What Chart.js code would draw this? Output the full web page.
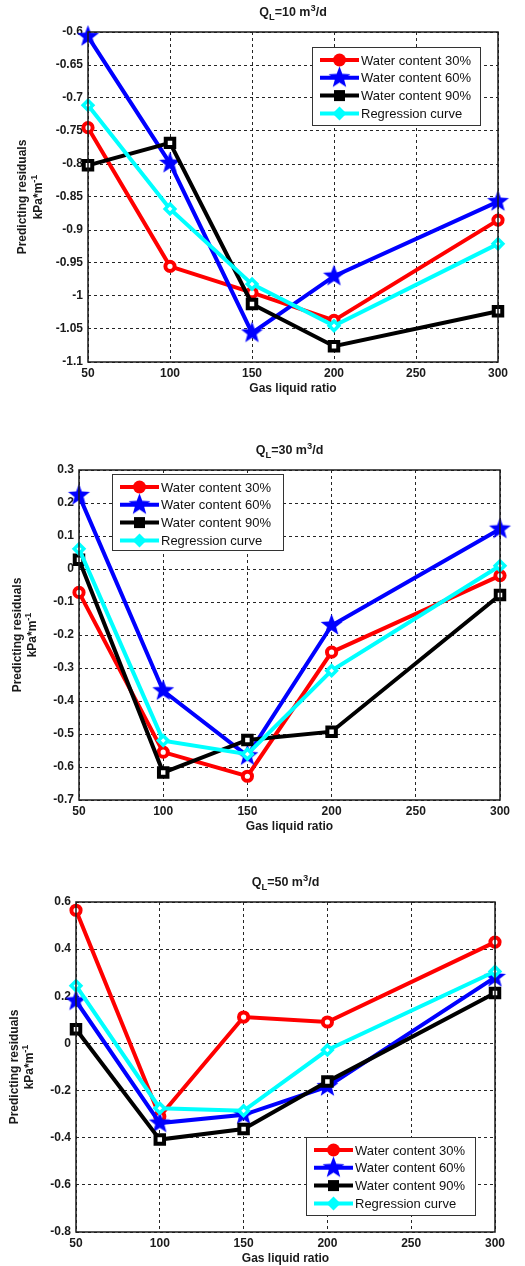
<!DOCTYPE html>
<html>
<head>
<meta charset="utf-8">
<script src="https://cdn.jsdelivr.net/npm/chart.js@4.4.1/dist/chart.umd.min.js"></script>
<style>
  html, body { margin: 0; padding: 0; background: #fff; }
  body { width: 525px; height: 1266px; position: relative; overflow: hidden; }
  canvas { position: absolute; left: 0; }
</style>
</head>
<body>
<canvas id="chartQ10" width="525" height="410" style="top:0px"></canvas>
<canvas id="chartQ30" width="525" height="420" style="top:420px"></canvas>
<canvas id="chartQ50" width="525" height="406" style="top:860px"></canvas>
<script>
// Data
const gasLiquidRatio = [50, 100, 150, 200, 300];
const seriesLabels = ['Water content 30%', 'Water content 60%', 'Water content 90%', 'Regression curve'];

// QL = 10 m3/d
const q10Water30 = [-0.745, -0.955, -0.995, -1.037, -0.885];
const q10Water60 = [-0.607, -0.799, -1.056, -0.970, -0.857];
const q10Water90 = [-0.802, -0.768, -1.012, -1.076, -1.023];
const q10Regression = [-0.711, -0.868, -0.982, -1.045, -0.921];

// QL = 30 m3/d
const q30Water30 = [-0.071, -0.555, -0.628, -0.252, -0.020];
const q30Water60 = [0.223, -0.369, -0.566, -0.171, 0.121];
const q30Water90 = [0.028, -0.617, -0.518, -0.493, -0.079];
const q30Regression = [0.061, -0.520, -0.561, -0.308, 0.010];

// QL = 50 m3/d
const q50Water30 = [0.565, -0.310, 0.112, 0.091, 0.430];
const q50Water60 = [0.180, -0.338, -0.303, -0.183, 0.280];
const q50Water90 = [0.060, -0.408, -0.363, -0.162, 0.214];
const q50Regression = [0.245, -0.275, -0.286, -0.028, 0.305];

// tick values
const xTicks = [50, 100, 150, 200, 250, 300];
const yTicksQ10 = [-1.1, -1.05, -1, -0.95, -0.9, -0.85, -0.8, -0.75, -0.7, -0.65, -0.6];
const yTicksQ30 = [-0.7, -0.6, -0.5, -0.4, -0.3, -0.2, -0.1, 0, 0.1, 0.2, 0.3];
const yTicksQ50 = [-0.8, -0.6, -0.4, -0.2, 0, 0.2, 0.4, 0.6];

const FONT = '"Liberation Sans", Arial, sans-serif';

function makeStar(outer, inner, color) {
    const c = document.createElement('canvas');
    const s = Math.ceil(outer * 2 + 2);
    c.width = s; c.height = s;
    const g = c.getContext('2d');
    g.fillStyle = color;
    g.beginPath();
    for (let i = 0; i < 10; i++) {
        const r = i % 2 ? inner : outer;
        const a = -Math.PI / 2 + i * Math.PI / 5;
        g.lineTo(s / 2 + r * Math.cos(a), s / 2 + r * Math.sin(a));
    }
    g.closePath();
    g.fill();
    return c;
}

const starPoint = makeStar(11.5, 4.8, '#0000ff');

// line / marker look per series (MATLAB style)
const seriesStyles = [
    { color: '#ff0000', pointStyle: 'circle', radius: 4.6, border: 4, bg: '#ffffff', order: 3 },
    { color: '#0000ff', pointStyle: starPoint, radius: 10, border: 0, bg: '#0000ff', order: 2 },
    { color: '#000000', pointStyle: 'rect', radius: 6, border: 4, bg: '#ffffff', order: 1 },
    { color: '#00ffff', pointStyle: 'rectRot', radius: 4.8, border: 3.5, bg: '#ffffff', order: 0 }
];

// rich text: parts = [[text, -1 sub | 0 | 1 sup], ...]
function richWidth(ctx, parts, size) {
    let w = 0;
    parts.forEach(p => {
        ctx.font = `bold ${p[1] ? size * 0.75 : size}px ${FONT}`;
        w += ctx.measureText(p[0]).width;
    });
    return w;
}

function drawRich(ctx, parts, cx, cy, size) {
    let x = cx - richWidth(ctx, parts, size) / 2;
    ctx.textAlign = 'left';
    ctx.textBaseline = 'middle';
    parts.forEach(p => {
        const s = p[1] ? size * 0.75 : size;
        ctx.font = `bold ${s}px ${FONT}`;
        const dy = p[1] === -1 ? size * 0.35 : (p[1] === 1 ? -size * 0.4 : 0);
        ctx.fillText(p[0], x, cy + dy);
        x += ctx.measureText(p[0]).width;
    });
}

function drawLegendMarker(ctx, idx, x, y) {
    const st = seriesStyles[idx];
    ctx.fillStyle = st.color;
    ctx.beginPath();
    if (idx === 0) {
        ctx.arc(x, y, 6.5, 0, Math.PI * 2);
        ctx.fill();
    } else if (idx === 1) {
        ctx.drawImage(starPoint, x - starPoint.width / 2, y - starPoint.height / 2);
    } else if (idx === 2) {
        ctx.fillRect(x - 5.5, y - 5.5, 11, 11);
    } else {
        ctx.moveTo(x, y - 7); ctx.lineTo(x + 7, y); ctx.lineTo(x, y + 7); ctx.lineTo(x - 7, y);
        ctx.closePath();
        ctx.fill();
    }
}

const matlabDecor = {
    id: 'matlabDecor',
    afterDraw(chart, args, opts) {
        const ctx = chart.ctx;
        const a = chart.chartArea;
        ctx.save();

        // axes box
        ctx.strokeStyle = '#1a1a1a';
        ctx.lineWidth = 1.5;
        ctx.strokeRect(a.left, a.top, a.right - a.left, a.bottom - a.top);

        ctx.fillStyle = '#1a1a1a';
        // title
        drawRich(ctx, opts.title, (a.left + a.right) / 2, a.top - 19, 12.5);
        // x axis title
        drawRich(ctx, [['Gas liquid ratio', 0]], (a.left + a.right) / 2, a.bottom + 27, 12);
        // y axis title (two lines)
        const cy = (a.top + a.bottom) / 2;
        [[[['Predicting residuals', 0]], opts.yTitleX[0]],
         [[['kPa*m', 0], ['-1', 1]], opts.yTitleX[1]]].forEach(([parts, x]) => {
            ctx.save();
            ctx.translate(x, cy);
            ctx.rotate(-Math.PI / 2);
            drawRich(ctx, parts, 0, 0, 12);
            ctx.restore();
        });

        // legend box
        const lg = opts.legend;
        ctx.fillStyle = '#ffffff';
        ctx.fillRect(lg.x, lg.y, lg.w, lg.h);
        ctx.strokeStyle = '#333333';
        ctx.lineWidth = 1;
        ctx.strokeRect(lg.x + 0.5, lg.y + 0.5, lg.w, lg.h);
        seriesLabels.forEach((label, i) => {
            const ry = lg.y + 13 + i * 17.8;
            ctx.strokeStyle = seriesStyles[i].color;
            ctx.lineWidth = 4;
            ctx.beginPath();
            ctx.moveTo(lg.x + 8, ry);
            ctx.lineTo(lg.x + 47, ry);
            ctx.stroke();
            drawLegendMarker(ctx, i, lg.x + 27.5, ry);
            ctx.fillStyle = '#111111';
            ctx.font = `13px ${FONT}`;
            ctx.textAlign = 'left';
            ctx.textBaseline = 'middle';
            ctx.fillText(label, lg.x + 49, ry + 1);
        });
        ctx.restore();
    }
};

function makeChart(canvasId, seriesValues, yTicks, layout) {
    const datasets = seriesValues.map((vals, i) => {
        const st = seriesStyles[i];
        return {
            label: seriesLabels[i],
            data: gasLiquidRatio.map((x, k) => ({ x: x, y: vals[k] })),
            borderColor: st.color,
            backgroundColor: st.color,
            borderWidth: 4,
            pointStyle: st.pointStyle,
            pointRadius: st.radius,
            pointBorderWidth: st.border,
            pointBorderColor: st.color,
            pointBackgroundColor: st.bg,
            tension: 0,
            fill: false,
            clip: false,
            order: st.order
        };
    });

    const tickFont = { family: FONT, size: 12, weight: 'bold' };

    return new Chart(document.getElementById(canvasId), {
        type: 'line',
        data: { datasets: datasets },
        plugins: [matlabDecor],
        options: {
            responsive: false,
            animation: false,
            layout: { padding: { left: 0, top: layout.top, right: layout.right, bottom: 0 } },
            plugins: {
                legend: { display: false },
                tooltip: { enabled: false },
                title: { display: false },
                matlabDecor: {
                    title: layout.title,
                    yTitleX: layout.yTitleX,
                    legend: layout.legend
                }
            },
            scales: {
                x: {
                    type: 'linear',
                    min: 50,
                    max: 300,
                    afterBuildTicks: s => { s.ticks = xTicks.map(v => ({ value: v })); },
                    afterFit: s => { s.height = layout.xHeight; },
                    grid: { color: '#262626', lineWidth: 1, drawTicks: false },
                    border: { display: false, dash: [3, 3] },
                    ticks: { color: '#1a1a1a', font: tickFont, padding: 4, maxRotation: 0, autoSkip: false }
                },
                y: {
                    type: 'linear',
                    min: yTicks[0],
                    max: yTicks[yTicks.length - 1],
                    afterBuildTicks: s => { s.ticks = yTicks.map(v => ({ value: v })); },
                    afterFit: s => { s.width = layout.yWidth; },
                    grid: { color: '#262626', lineWidth: 1, drawTicks: false },
                    border: { display: false, dash: [3, 3] },
                    ticks: {
                        color: '#1a1a1a',
                        font: tickFont,
                        padding: 5,
                        autoSkip: false,
                        callback: v => String(Number(v.toFixed(2)))
                    }
                }
            }
        }
    });
}

makeChart('chartQ10', [q10Water30, q10Water60, q10Water90, q10Regression], yTicksQ10, {
    top: 32, right: 27, yWidth: 88, xHeight: 48,
    title: [['Q', 0], ['L', -1], ['=10 m', 0], ['3', 1], ['/d', 0]],
    yTitleX: [23, 39],
    legend: { x: 312, y: 47, w: 168, h: 78 }
});

makeChart('chartQ30', [q30Water30, q30Water60, q30Water90, q30Regression], yTicksQ30, {
    top: 50, right: 25, yWidth: 79, xHeight: 40,
    title: [['Q', 0], ['L', -1], ['=30 m', 0], ['3', 1], ['/d', 0]],
    yTitleX: [18, 33],
    legend: { x: 112, y: 54, w: 171, h: 76 }
});

makeChart('chartQ50', [q50Water30, q50Water60, q50Water90, q50Regression], yTicksQ50, {
    top: 42, right: 30, yWidth: 76, xHeight: 34,
    title: [['Q', 0], ['L', -1], ['=50 m', 0], ['3', 1], ['/d', 0]],
    yTitleX: [15, 30],
    legend: { x: 306, y: 277, w: 169, h: 78 }
});
</script>
</body>
</html>
